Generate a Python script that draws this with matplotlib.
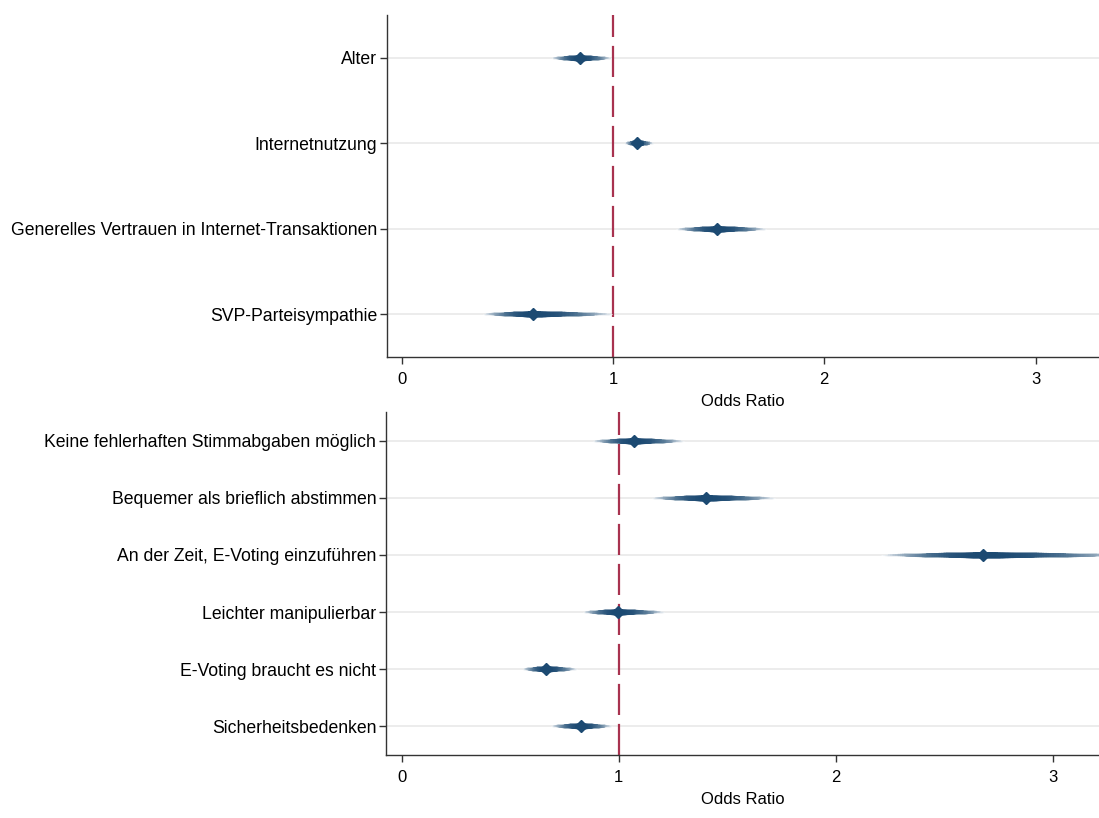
import numpy as np
import matplotlib
matplotlib.use("Agg")
from matplotlib import pyplot as plt
from matplotlib.colors import to_rgb

plt.rcParams['font.family'] = ['Liberation Sans', 'DejaVu Sans']

# top panel
top_labels = ["Alter", "Internetnutzung",
              "Generelles Vertrauen in Internet-Transaktionen", "SVP-Parteisympathie"]
top_est = [0.842, 1.116, 1.494, 0.620]
top_lo = [0.710, 1.056, 1.300, 0.384]
top_hi = [0.993, 1.190, 1.725, 0.998]

# bottom panel
bot_labels = ["Keine fehlerhaften Stimmabgaben möglich", "Bequemer als brieflich abstimmen",
              "An der Zeit, E-Voting einzuführen", "Leichter manipulierbar",
              "E-Voting braucht es nicht", "Sicherheitsbedenken"]
bot_est = [1.069, 1.404, 2.680, 0.996, 0.665, 0.826]
bot_lo = [0.880, 1.151, 2.210, 0.835, 0.557, 0.690]
bot_hi = [1.300, 1.720, 3.350, 1.210, 0.806, 0.967]

x_ticks = [0, 1, 2, 3]

navy = np.array(to_rgb('#1c4a72'))
white = np.ones(3)
ref_red = '#a8324f'


def spindle(ax, y, est, lo, hi, n=60):
    # smoothed CI: nested segments, thin & pale outside, thick & dark inside
    for i in range(n):
        f = 1 - i / n
        left = est - f * (est - lo)
        right = est + f * (hi - est)
        t = f ** 2.5
        col = navy * (1 - 0.95 * t) + white * 0.95 * t
        lw = 0.7 + 3.6 * (1 - f) ** 0.8
        ax.plot([left, right], [y, y], color=col, lw=lw, solid_capstyle='butt', zorder=3)
    ax.plot([est], [y], marker='D', ms=6.5, color=navy, mec=navy, zorder=4)


def panel(ax, labels, est, lo, hi, xlim):
    n = len(labels)
    ys = np.arange(n, 0, -1)
    for y in ys:
        ax.axhline(y, color='#ebebeb', lw=1.3, zorder=1)
    ax.axvline(1, color=ref_red, lw=1.6, dashes=(14, 4), zorder=2)
    for y, e, l, h in zip(ys, est, lo, hi):
        spindle(ax, y, e, l, h)
    ax.set_ylim(0.5, n + 0.5)
    ax.set_xlim(*xlim)
    ax.set_yticks(ys)
    ax.set_yticklabels(labels, fontsize=12.7)
    ax.set_xticks(x_ticks)
    ax.set_xticklabels([str(v) for v in x_ticks], fontsize=12)
    ax.set_xlabel("Odds Ratio", fontsize=12, labelpad=5)
    for s in ['top', 'right']:
        ax.spines[s].set_visible(False)
    for s in ['left', 'bottom']:
        ax.spines[s].set_color('#333333')
        ax.spines[s].set_linewidth(1.0)
    ax.tick_params(axis='x', length=5, width=1.0, color='#333333', pad=6)
    ax.tick_params(axis='y', length=5, width=1.0, color='#333333', pad=2)


fig = plt.figure(figsize=(10.99, 8.18), dpi=100)
ax1 = fig.add_axes([387 / 1099, 1 - 357 / 818, 1 - 387 / 1099, (357 - 15) / 818])
ax2 = fig.add_axes([386 / 1099, 1 - 755 / 818, 1 - 386 / 1099, (755 - 412) / 818])

panel(ax1, top_labels, top_est, top_lo, top_hi, (-0.069, 3.30))
panel(ax2, bot_labels, bot_est, bot_lo, bot_hi, (-0.072, 3.212))

fig.savefig("out.png", dpi=100)
